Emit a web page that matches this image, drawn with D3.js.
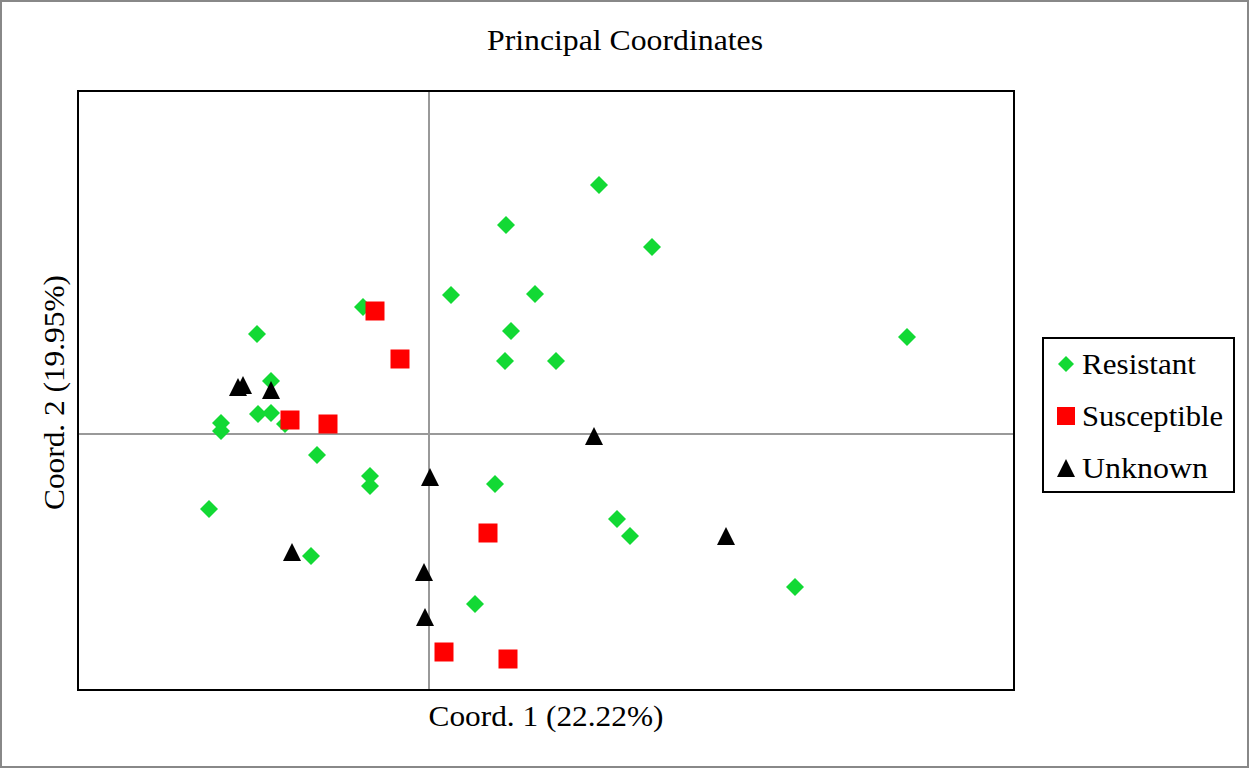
<!DOCTYPE html>
<html>
<head>
<meta charset="utf-8">
<script src="https://cdn.jsdelivr.net/npm/d3@7"></script>
<style>
    body { margin: 0; background: #fff; }
    svg text { font-family: "Liberation Serif", "DejaVu Serif", serif; fill: #000; }
</style>
</head>
<body>
<div id="chart"></div>
<script>
// PCoA coordinates (axis 1, axis 2)
var resistantX = [-0.066, -0.172, -0.158, -0.171, -0.158, -0.208, -0.208, -0.144, -0.112, -0.059,
    -0.059, -0.220, -0.118, 0.066, 0.046, 0.170, 0.077, 0.223, 0.022, 0.106,
    0.082, 0.076, 0.127, 0.188, 0.201, 0.366, 0.478];
var resistantY = [0.127, 0.100, 0.053, 0.020, 0.021, 0.011, 0.003, 0.010, -0.021, -0.042,
    -0.052, -0.075, -0.122, -0.050, -0.170, 0.249, 0.209, 0.187, 0.139, 0.140,
    0.103, 0.073, 0.073, -0.085, -0.102, -0.153, 0.097];

var susceptibleX = [-0.054, -0.029, -0.139, -0.101, 0.059, 0.015, 0.079];
var susceptibleY = [0.123, 0.075, 0.014, 0.010, -0.099, -0.218, -0.225];

var unknownX = [-0.191, -0.186, -0.158, 0.001, -0.137, -0.005, -0.004, 0.165, 0.297];
var unknownY = [0.047, 0.049, 0.044, -0.043, -0.118, -0.138, -0.183, -0.002, -0.102];

var groupNames = ["Resistant", "Susceptible", "Unknown"];
var groupColors = ["#12d934", "#ff0000", "#000000"];

var xDomain = [-0.351, 0.585];
var yDomain = [-0.256, 0.343];

var chartTitle = "Principal Coordinates";
var xLabel = "Coord. 1 (22.22%)";
var yLabel = "Coord. 2 (19.95%)";

var svgWidth = 1250;
var svgHeight = 769;

var margin = { top: 91, right: 236, bottom: 79, left: 78 };
var width = svgWidth - margin.left - margin.right;
var height = svgHeight - margin.top - margin.bottom;

var svg = d3.select("#chart")
    .append("svg")
    .attr("width", svgWidth)
    .attr("height", svgHeight);

// outer frame
svg.append("rect")
    .attr("x", 1).attr("y", 1)
    .attr("width", svgWidth - 3).attr("height", svgHeight - 3)
    .attr("fill", "#fff")
    .attr("stroke", "#888")
    .attr("stroke-width", 2);

var chartGroup = svg.append("g")
    .attr("transform", `translate(${margin.left}, ${margin.top})`);

var xScale = d3.scaleLinear().domain(xDomain).range([0, width]);
var yScale = d3.scaleLinear().domain(yDomain).range([height, 0]);

// zero lines through the origin
chartGroup.append("line")
    .attr("x1", xScale(0)).attr("x2", xScale(0))
    .attr("y1", 0).attr("y2", height)
    .attr("stroke", "#999").attr("stroke-width", 2);
chartGroup.append("line")
    .attr("x1", 0).attr("x2", width)
    .attr("y1", yScale(0)).attr("y2", yScale(0))
    .attr("stroke", "#999").attr("stroke-width", 2);

// marker shapes
function markerPath(kind, s) {
    if (kind === 0) return `M0,${-s}L${s},0L0,${s}L${-s},0Z`;
    if (kind === 1) return `M${-s},${-s}H${s}V${s}H${-s}Z`;
    return `M0,${-s}L${s},${s}L${-s},${s}Z`;
}
var markerSize = [9, 9.5, 9];

var groups = [
    d3.zip(resistantX, resistantY),
    d3.zip(susceptibleX, susceptibleY),
    d3.zip(unknownX, unknownY)
];

groups.forEach(function (pts, i) {
    chartGroup.append("g")
        .selectAll("path")
        .data(pts)
        .enter()
        .append("path")
        .attr("transform", d => `translate(${xScale(d[0])}, ${yScale(d[1])})`)
        .attr("d", markerPath(i, markerSize[i]))
        .attr("fill", groupColors[i]);
});

// plot frame
chartGroup.append("rect")
    .attr("x", 0).attr("y", 0)
    .attr("width", width).attr("height", height)
    .attr("fill", "none")
    .attr("stroke", "#000")
    .attr("stroke-width", 2);

// title and axis labels (stretched to the width of the original face)
svg.append("text")
    .attr("x", svgWidth / 2)
    .attr("y", 50)
    .attr("text-anchor", "middle")
    .attr("font-size", 29)
    .attr("textLength", 276)
    .attr("lengthAdjust", "spacingAndGlyphs")
    .text(chartTitle);

svg.append("text")
    .attr("x", margin.left + width / 2)
    .attr("y", 726)
    .attr("text-anchor", "middle")
    .attr("font-size", 29)
    .attr("textLength", 235)
    .attr("lengthAdjust", "spacingAndGlyphs")
    .text(xLabel);

svg.append("text")
    .attr("transform", `translate(64, ${margin.top + height / 2 + 2}) rotate(-90)`)
    .attr("text-anchor", "middle")
    .attr("font-size", 29)
    .attr("textLength", 235)
    .attr("lengthAdjust", "spacingAndGlyphs")
    .text(yLabel);

// legend
var legendWidths = [114, 141, 126];
var legend = svg.append("g").attr("transform", "translate(1043, 338)");
legend.append("rect")
    .attr("width", 191).attr("height", 154)
    .attr("fill", "#fff")
    .attr("stroke", "#000")
    .attr("stroke-width", 2);

var legendItems = legend.selectAll("g.item")
    .data(groupNames)
    .enter()
    .append("g")
    .attr("class", "item")
    .attr("transform", (d, i) => `translate(23, ${26 + i * 52})`);

legendItems.append("path")
    .attr("d", (d, i) => markerPath(i, i === 0 ? 8 : 9))
    .attr("fill", (d, i) => groupColors[i]);

legendItems.append("text")
    .attr("x", 16)
    .attr("y", 10)
    .attr("font-size", 29)
    .attr("textLength", (d, i) => legendWidths[i])
    .attr("lengthAdjust", "spacingAndGlyphs")
    .text(d => d);
</script>
</body>
</html>
